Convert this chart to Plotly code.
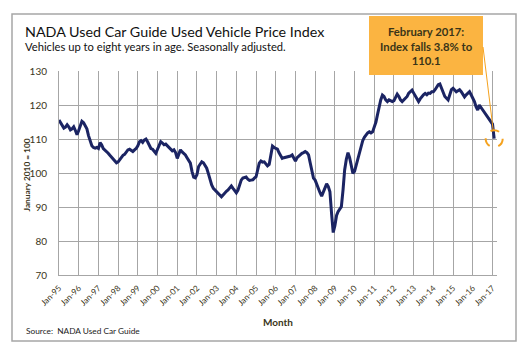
import plotly.graph_objects as go
import pandas as pd

# ---------------- data ----------------
idx_1995 = [115.6, 114.8, 114.0, 113.2, 113.5, 114.2, 113.6, 112.7, 113.0, 113.6, 112.5, 111.3]
idx_1996 = [112.5, 114.0, 115.2, 114.8, 114.0, 113.0, 111.0, 109.2, 108.0, 107.5, 107.3, 107.5]
idx_1997 = [107.2, 108.9, 108.3, 107.2, 106.8, 106.3, 105.8, 105.2, 104.6, 104.0, 103.4, 103.0]
idx_1998 = [103.3, 104.0, 104.8, 105.2, 105.5, 106.3, 106.8, 107.0, 106.5, 106.3, 106.8, 107.2]
idx_1999 = [108.0, 109.2, 109.5, 109.0, 109.7, 110.0, 109.2, 108.2, 107.2, 107.0, 106.5, 105.8]
idx_2000 = [107.0, 108.0, 109.2, 108.8, 108.3, 108.5, 108.0, 107.2, 107.0, 106.5, 106.8, 106.0]
idx_2001 = [104.3, 105.5, 106.8, 106.2, 105.8, 105.3, 104.5, 103.8, 102.9, 100.5, 98.8, 98.6]
idx_2002 = [99.5, 101.9, 102.8, 103.3, 103.0, 102.3, 101.4, 99.8, 98.0, 96.5, 95.5, 95.0]
idx_2003 = [94.5, 94.0, 93.5, 93.0, 93.5, 94.2, 94.6, 95.0, 95.6, 96.2, 95.5, 94.8]
idx_2004 = [94.2, 95.0, 96.5, 97.9, 98.5, 98.6, 98.8, 98.2, 97.8, 97.9, 98.0, 98.5]
idx_2005 = [98.9, 101.0, 102.9, 103.5, 103.2, 103.3, 102.6, 102.1, 102.5, 105.5, 107.9, 107.5]
idx_2006 = [107.2, 107.0, 106.0, 105.0, 104.3, 104.5, 104.6, 104.8, 104.8, 105.0, 105.3, 104.5]
idx_2007 = [103.5, 104.5, 105.0, 105.5, 105.8, 106.0, 106.3, 106.0, 105.3, 103.0, 100.5, 98.5]
idx_2008 = [97.9, 96.5, 95.5, 94.2, 93.2, 94.5, 96.0, 96.8, 96.0, 94.5, 88.0, 82.5]
idx_2009 = [84.5, 87.5, 88.6, 89.3, 90.1, 95.0, 100.9, 104.0, 106.0, 104.5, 101.5, 99.9]
idx_2010 = [100.5, 102.5, 104.3, 105.5, 107.5, 109.5, 110.5, 111.2, 111.8, 112.1, 111.8, 112.1]
idx_2011 = [113.5, 115.0, 117.1, 119.5, 121.5, 122.9, 122.5, 121.5, 121.0, 121.5, 121.3, 121.0]
idx_2012 = [121.3, 122.2, 123.2, 122.5, 121.5, 121.0, 121.5, 122.0, 122.5, 123.5, 124.0, 124.4]
idx_2013 = [123.5, 122.5, 121.5, 121.0, 121.8, 122.5, 123.0, 123.4, 123.0, 123.5, 123.4, 123.9]
idx_2014 = [123.9, 124.5, 125.4, 126.0, 126.2, 125.0, 123.4, 122.5, 122.0, 121.5, 123.0, 124.5]
idx_2015 = [124.9, 124.4, 123.9, 124.2, 124.5, 123.9, 123.0, 122.4, 123.0, 123.5, 123.9, 123.0]
idx_2016 = [122.0, 121.0, 119.5, 118.5, 120.0, 119.3, 118.5, 118.0, 117.3, 116.8, 116.1, 115.2]
idx_2017 = [114.4, 110.1]

yearly = [idx_1995, idx_1996, idx_1997, idx_1998, idx_1999, idx_2000, idx_2001,
          idx_2002, idx_2003, idx_2004, idx_2005, idx_2006, idx_2007, idx_2008,
          idx_2009, idx_2010, idx_2011, idx_2012, idx_2013, idx_2014, idx_2015,
          idx_2016, idx_2017]
values = [v for yr in yearly for v in yr]
months = pd.date_range("1995-01-01", periods=len(values), freq="MS")

callout_lines = ["February 2017:", "Index falls 3.8% to", "110.1"]

# ---------------- layout geometry ----------------
W, H = 529, 353
L, R, T, B = 59, 32, 71, 78
PW, PH = W - L - R, H - T - B
X_RANGE = [pd.Timestamp("1995-01-01"), pd.Timestamp("2017-03-25")]
Y_RANGE = [70, 130]

def px(xp):
    return (xp - L) / PW

def py(yp):
    return 1 - (yp - T) / PH

def data_to_px(t, v):
    fx = (t - X_RANGE[0]) / (X_RANGE[1] - X_RANGE[0])
    fy = (v - Y_RANGE[0]) / (Y_RANGE[1] - Y_RANGE[0])
    return L + fx * PW, T + (1 - fy) * PH

FONT = "Lato"
GRID = "#A6A6A6"
NAVY = "#1B2463"
ORANGE = "#FBB441"
CIRCLE = "#F5A21E"
LABEL = "#3A3520"

cx, cy = data_to_px(months[-1], values[-1])
rad = 8.5

fig = go.Figure()
fig.add_trace(go.Scatter(
    x=months, y=values, mode="lines",
    line=dict(color=NAVY, width=3), hoverinfo="skip", showlegend=False,
))

shapes = [
    dict(type="rect", xref="paper", yref="paper", x0=px(12), x1=px(516), y0=py(341), y1=py(14),
         line=dict(color=GRID, width=1.5), layer="below"),
    dict(type="rect", xref="paper", yref="paper", x0=px(369), x1=px(483), y0=py(75), y1=py(16),
         fillcolor=ORANGE, line=dict(width=0), layer="above"),
    dict(type="circle", xref="paper", yref="paper",
         x0=px(cx - rad), x1=px(cx + rad), y0=py(cy + rad), y1=py(cy - rad),
         line=dict(color=CIRCLE, width=2, dash="dash")),
    dict(type="line", xref="paper", yref="paper",
         x0=px(483), y0=py(47), x1=px(cx - 1), y1=py(cy - rad),
         line=dict(color=CIRCLE, width=1)),
]

annotations = [
    dict(text="NADA Used Car Guide Used Vehicle Price Index", xref="paper", yref="paper",
         x=px(23), y=py(31), xanchor="left", yanchor="middle", showarrow=False,
         font=dict(family=FONT, size=14.3, color="#111111")),
    dict(text="Vehicles up to eight years in age. Seasonally adjusted.", xref="paper", yref="paper",
         x=px(23), y=py(46), xanchor="left", yanchor="middle", showarrow=False,
         font=dict(family=FONT, size=11.2, color="#111111")),
    dict(text="<b>January 2010 = 100</b>", xref="paper", yref="paper", textangle=-90,
         x=px(26.5), y=py(175), xanchor="center", yanchor="middle", showarrow=False,
         font=dict(family=FONT, size=8.3, color=LABEL)),
    dict(text="<b>Month</b>", xref="paper", yref="paper",
         x=px(278), y=py(322), xanchor="center", yanchor="middle", showarrow=False,
         font=dict(family=FONT, size=10, color=LABEL)),
    dict(text="Source:  NADA Used Car Guide", xref="paper", yref="paper",
         x=px(24), y=py(331), xanchor="left", yanchor="middle", showarrow=False,
         font=dict(family=FONT, size=8.3, color="#222222")),
    dict(text="<b>" + "<br>".join(callout_lines) + "</b>", xref="paper", yref="paper",
         x=px(426), y=py(46), xanchor="center", yanchor="middle", showarrow=False,
         align="center", font=dict(family=FONT, size=11.3, color="#3A3418")),
]

fig.update_layout(
    width=W, height=H,
    margin=dict(l=L, r=R, t=T, b=B, pad=0),
    paper_bgcolor="white", plot_bgcolor="white",
    shapes=shapes, annotations=annotations,
    font=dict(family=FONT),
)
fig.update_xaxes(
    type="date", range=[str(X_RANGE[0].date()), str(X_RANGE[1].date())],
    tick0="1995-01-01", dtick="M12", tickformat="%b-%y", tickangle=-45,
    showgrid=True, gridcolor=GRID, gridwidth=1,
    showline=True, linecolor=GRID, linewidth=1,
    ticks="", ticklabelstandoff=4, tickfont=dict(family=FONT, size=8.3, color=LABEL),
    zeroline=False,
)
fig.update_yaxes(
    range=Y_RANGE, dtick=10, tick0=70,
    showgrid=True, gridcolor=GRID, gridwidth=1,
    showline=True, linecolor=GRID, linewidth=1,
    ticks="", ticklabelstandoff=9,
    tickfont=dict(family=FONT, size=10, color=LABEL),
    zeroline=False,
)

fig.write_html("out.html")
